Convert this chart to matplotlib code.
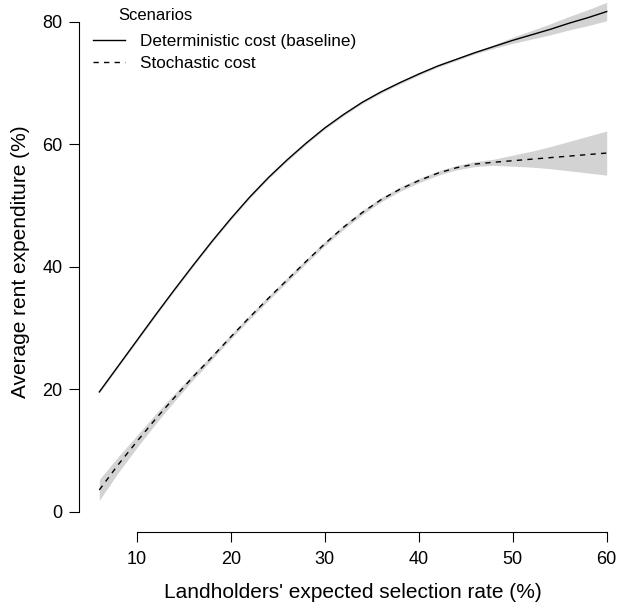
import numpy as np
import matplotlib
matplotlib.use("Agg")
import matplotlib.pyplot as plt
from matplotlib.lines import Line2D

plt.rcParams['font.family'] = ['Liberation Sans', 'DejaVu Sans']

# selection rate (%)
rate = [6, 8, 10, 12, 14, 16, 18, 20, 22, 24, 26, 28, 30, 32, 34,
        36, 38, 40, 42, 44, 46, 48, 50, 52, 54, 56, 58, 60]

# deterministic cost (baseline): fit and half-width of the band
det_fit = [19.6, 23.8, 28.0, 32.2, 36.3, 40.3, 44.2, 47.9, 51.4, 54.6,
           57.5, 60.2, 62.7, 64.9, 66.9, 68.6, 70.1, 71.5, 72.8, 73.9,
           75.0, 76.0, 77.0, 77.9, 78.8, 79.8, 80.7, 81.7]
det_se = [0.2, 0.2, 0.2, 0.2, 0.2, 0.2, 0.2, 0.2, 0.2, 0.2, 0.2, 0.2,
          0.2, 0.2, 0.2, 0.2, 0.2, 0.2, 0.2, 0.2, 0.2, 0.3, 0.5, 0.7,
          0.9, 1.1, 1.3, 1.5]

# stochastic cost
sto_fit = [3.6, 7.7, 11.5, 15.2, 18.7, 22.1, 25.3, 28.6, 31.8, 34.9,
           37.9, 40.9, 43.8, 46.5, 48.9, 51.0, 52.7, 54.1, 55.3, 56.2,
           56.8, 57.1, 57.35, 57.6, 57.85, 58.1, 58.35, 58.6]
sto_se = [1.7, 1.3, 1.0, 0.8, 0.6, 0.5, 0.4, 0.35, 0.35, 0.35, 0.35,
          0.35, 0.35, 0.35, 0.35, 0.35, 0.35, 0.35, 0.35, 0.35, 0.4,
          0.5, 0.9, 1.3, 1.8, 2.4, 3.0, 3.6]

x_ticks = [10, 20, 30, 40, 50, 60]
y_ticks = [0, 20, 40, 60, 80]


def main():
    W, H = 621, 605
    fig = plt.figure(figsize=(W / 100, H / 100), dpi=100)

    # plot region in pixels (R style, partly off the canvas)
    x0, x1 = 3.84, 62.16
    y0, y1 = -3.27, 84.9
    left_px, right_px = 79, 627
    bottom_px = 532
    top_px = bottom_px - (y1 - y0) * 6.125
    ax = fig.add_axes([left_px / W, (H - bottom_px) / H,
                       (right_px - left_px) / W, (bottom_px - top_px) / H])

    x = np.array(rate)
    d = np.array(det_fit)
    ds = np.array(det_se)
    s = np.array(sto_fit)
    ss = np.array(sto_se)

    ax.fill_between(x, d - ds, d + ds, color="#d3d3d3", lw=0)
    ax.fill_between(x, s - ss, s + ss, color="#d3d3d3", lw=0)
    ax.plot(x, d, color="black", lw=1.0)
    ax.plot(x, s, color="black", lw=1.0, dashes=(3.8, 3.8))

    ax.set_xlim(x0, x1)
    ax.set_ylim(y0, y1)
    for side in ["top", "right"]:
        ax.spines[side].set_visible(False)
    ax.spines["left"].set_bounds(0, 80)
    ax.spines["bottom"].set_bounds(10, 60)
    ax.spines["left"].set_linewidth(0.8)
    ax.spines["bottom"].set_linewidth(0.8)
    ax.set_xticks(x_ticks)
    ax.set_yticks(y_ticks)
    ax.tick_params(direction="out", length=7, width=0.8, labelsize=13)
    ax.tick_params(axis="x", pad=7)
    ax.tick_params(axis="y", pad=5)

    ax.set_xlabel("Landholders' expected selection rate (%)", fontsize=15)
    ax.set_ylabel("Average rent expenditure (%)", fontsize=15)
    ax.xaxis.set_label_coords(0.5, -0.095)
    ax.yaxis.set_label_coords(-0.09, 0.5)

    handles = [Line2D([], [], color="black", lw=1.0),
               Line2D([], [], color="black", lw=1.0, dashes=(3.8, 3.8))]
    labels = ["Deterministic cost (baseline)", "Stochastic cost"]
    fig.legend(handles, labels, loc="upper left",
               bbox_to_anchor=(93 / W, 1 - 34 / H), frameon=False,
               fontsize=12.3, handlelength=1.9, handletextpad=0.85,
               labelspacing=0.4, borderpad=0, borderaxespad=0)
    fig.text(118 / W, 1 - 16 / H, "Scenarios", fontsize=12,
             ha="left", va="center")

    fig.savefig("out.png", dpi=100)


if __name__ == "__main__":
    main()
